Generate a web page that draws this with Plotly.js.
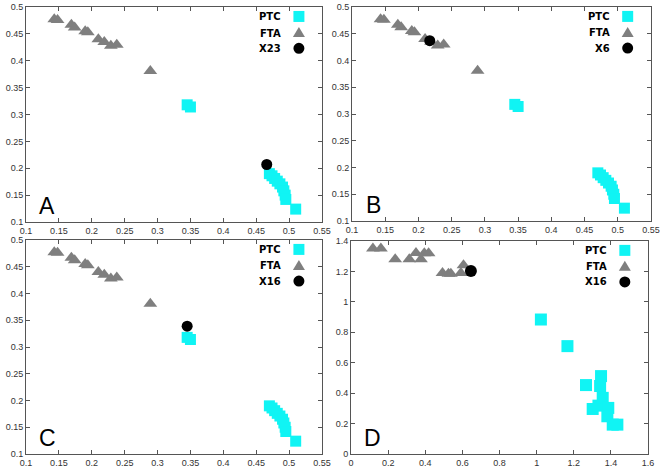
<!DOCTYPE html>
<html><head><meta charset="utf-8">
<script src="https://cdn.plot.ly/plotly-3.0.1.min.js"></script>
<style>html,body{margin:0;padding:0;background:#fff}#chart{width:661px;height:467px}</style>
</head><body><div id="chart"></div>
<script>
// Panels A, B, C share the same PTC / FTA samples
const ptcX = [0.345, 0.350, 0.470, 0.474, 0.478, 0.482, 0.486, 0.490, 0.492, 0.494, 0.495, 0.510];
const ptcY = [0.318, 0.314, 0.190, 0.186, 0.181, 0.176, 0.171, 0.165, 0.158, 0.150, 0.142, 0.124];
const ftaX = [0.143, 0.148, 0.169, 0.174, 0.190, 0.194, 0.210, 0.219, 0.229, 0.238, 0.289];
const ftaY = [0.477, 0.476, 0.467, 0.462, 0.455, 0.453, 0.440, 0.435, 0.428, 0.430, 0.381];
// Panel D samples
const ptcXD = [1.023, 1.166, 1.266, 1.347, 1.342, 1.302, 1.333, 1.356, 1.386, 1.381, 1.410, 1.435];
const ptcYD = [0.884, 0.709, 0.453, 0.512, 0.447, 0.296, 0.318, 0.369, 0.303, 0.248, 0.193, 0.193];
const ftaXD = [0.118, 0.161, 0.238, 0.314, 0.350, 0.377, 0.395, 0.418, 0.493, 0.525, 0.538, 0.592, 0.606];
const ftaYD = [1.350, 1.350, 1.280, 1.280, 1.321, 1.280, 1.320, 1.320, 1.190, 1.185, 1.185, 1.190, 1.240];
// Unknown samples
const unkNames = ["X23", "X6", "X16", "X16"];
const unkX = [0.466, 0.217, 0.345, 0.646];
const unkY = [0.207, 0.437, 0.339, 1.203];
const panelLetters = ["A", "B", "C", "D"];
const legendNames = ["PTC", "FTA"];

const CYAN = "#10f4f4", GRAY = "#7f7f7f", BLACK = "#000000";
const W = 661, H = 467;
const px = [[26, 322, 7, 222], [352, 651, 7, 221], [26, 322, 240, 454], [351, 648, 241, 454]];

const traces = [];
const layout = {
  width: W, height: H, margin: {l: 0, r: 0, t: 0, b: 0, pad: 0},
  paper_bgcolor: "#fff", plot_bgcolor: "#fff", showlegend: false,
  annotations: [], shapes: []
};
const tickFont = {family: "Liberation Sans, Arial, sans-serif", size: 9, color: "#333"};

for (let i = 0; i < 4; i++) {
  const s = i === 0 ? "" : String(i + 1);
  const isD = i === 3;
  const xs = isD ? ptcXD : ptcX, ys = isD ? ptcYD : ptcY;
  const fx = isD ? ftaXD : ftaX, fy = isD ? ftaYD : ftaY;
  const sz = isD ? 12 : 11;
  traces.push({x: xs, y: ys, xaxis: "x" + s, yaxis: "y" + s, type: "scatter", mode: "markers", name: legendNames[0],
    marker: {symbol: "square", size: sz, color: CYAN, line: {width: 0}}});
  traces.push({x: fx, y: fy, xaxis: "x" + s, yaxis: "y" + s, type: "scatter", mode: "markers", name: legendNames[1],
    marker: {symbol: "triangle-up", size: 12, color: GRAY, line: {width: 0}}});
  traces.push({x: [unkX[i]], y: [unkY[i]], xaxis: "x" + s, yaxis: "y" + s, type: "scatter", mode: "markers", name: unkNames[i],
    marker: {symbol: "circle", size: sz, color: BLACK, line: {width: 0}}});

  const p = px[i];
  const common = {showline: true, linecolor: "#555", linewidth: 1, mirror: "ticks", ticks: "inside", ticklen: 4,
    tickcolor: "#555", showgrid: false, zeroline: false, tickfont: tickFont, fixedrange: true};
  layout["xaxis" + s] = Object.assign({}, common, {
    domain: [p[0] / W, p[1] / W], anchor: "y" + s,
    range: isD ? [0, 1.6] : [0.1, 0.55], dtick: isD ? 0.2 : 0.05, tick0: 0
  });
  layout["yaxis" + s] = Object.assign({}, common, {
    domain: [1 - p[3] / H, 1 - p[2] / H], anchor: "x" + s,
    range: isD ? [0, 1.4] : [0.1, 0.5], dtick: isD ? 0.2 : 0.05, tick0: 0
  });

  const xr = "x" + s + " domain", yr = "y" + s + " domain";
  layout.annotations.push({xref: xr, yref: yr, x: 0.072, y: 0.075, text: panelLetters[i], showarrow: false,
    xanchor: "center", yanchor: "middle", font: {family: "Liberation Sans, Arial, sans-serif", size: 23, color: "#000"}});
  const rows = [0.956, 0.879, 0.808];
  const names = [legendNames[0], legendNames[1], unkNames[i]];
  for (let r = 0; r < 3; r++) {
    layout.annotations.push({xref: xr, yref: yr, x: 0.868, y: rows[r], text: "<b>" + names[r] + "</b>", showarrow: false,
      xanchor: "right", yanchor: "middle", font: {family: "DejaVu Sans, sans-serif", size: 10, color: "#000"}});
  }
  const gx = 0.922;
  const base = {xref: xr, yref: yr, xsizemode: "pixel", ysizemode: "pixel", xanchor: gx, line: {width: 0}};
  layout.shapes.push(Object.assign({}, base, {type: "rect", yanchor: rows[0], x0: -5.5, x1: 5.5, y0: -5.5, y1: 5.5, fillcolor: CYAN}));
  layout.shapes.push(Object.assign({}, base, {type: "path", yanchor: rows[1], path: "M-6,-4L6,-4L0,6Z", fillcolor: GRAY}));
  layout.shapes.push(Object.assign({}, base, {type: "circle", yanchor: rows[2], x0: -5.5, x1: 5.5, y0: -5.5, y1: 5.5, fillcolor: BLACK}));
}

Plotly.newPlot("chart", traces, layout, {staticPlot: true, displayModeBar: false});
</script></body></html>
